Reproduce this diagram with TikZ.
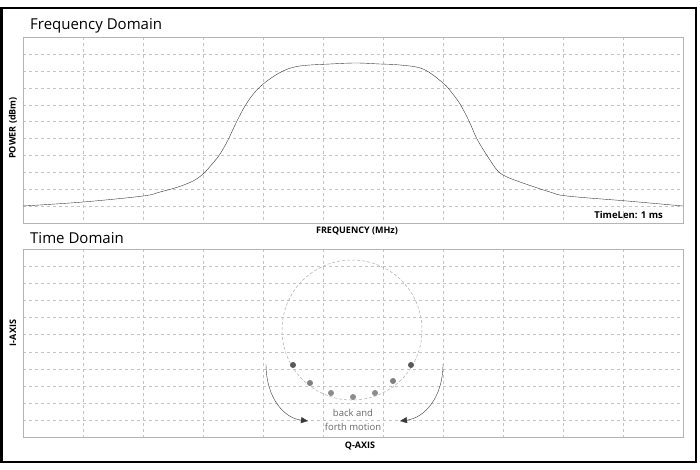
\documentclass[tikz,border=0pt]{standalone}
\usepackage{fontspec}
\setmainfont{Open Sans}
\usepackage{tikz}
\usetikzlibrary{arrows.meta,positioning}
\definecolor{gridx}{HTML}{C4C4C4}
\definecolor{framex}{HTML}{B4B4B4}
\definecolor{curvex}{HTML}{3A3A3A}
\definecolor{notex}{HTML}{6A6A6A}
\tikzset{
  gridln/.style={gridx,dashed,very thin},
  plotframe/.style={framex,thin},
  title/.style={font=\fontsize{15}{17}\selectfont,anchor=base west,inner sep=0pt},
  axlabel/.style={font=\fontsize{9}{11}\selectfont\bfseries,inner sep=0pt},
  ar/.style={-{Triangle[length=7pt,width=6pt]},curvex,thin},
  dot/.style={circle,fill=#1,inner sep=0pt,minimum size=6pt}
}
\begin{document}
\begin{tikzpicture}[x=1pt,y=-1pt]
\useasboundingbox (0,0) rectangle (700,469);
\fill[white] (0,0) rectangle (700,469);
\draw[black,line width=2.5pt] (1.5,8) rectangle (696,462);
% frequency domain panel
\foreach \gx in {1,...,10}{\draw[gridln] ({23+\gx*60},37) -- ({23+\gx*60},223);}
\foreach \gy in {1,...,10}{\draw[gridln] (23,{37+\gy*16.9}) -- (683,{37+\gy*16.9});}
\draw[plotframe] (23,37) rectangle (683,223);
\draw[curvex,thin] plot[smooth,tension=0.6] coordinates {
  (23,206) (83,202) (143,196) (160,192) (178,187) (193,181) (203,174)
  (213,163) (220,154) (228,140) (236,123) (245,106) (255,92) (267,81)
  (283,71) (300,66) (330,64) (356,63) (380,64) (400,65) (423,69)
  (443,83) (452,93) (460,104) (469,121) (477,139) (488,157) (497,170)
  (505,176) (520,182) (550,192) (567,196) (627,201) (683,206)};
\node[title] (ftitle) at (30,29) {Frequency Domain};
\node[axlabel,rotate=90] (power) at (13,128) {POWER (dBm)};
\node[axlabel] (freq) at (357,231) {FREQUENCY (MHz)};
\node[axlabel,anchor=east,font=\fontsize{9.5}{11}\selectfont] (tlen) at (663,215) {\textbf{TimeLen: 1 ms}};
% time domain panel
\foreach \gx in {1,...,10}{\draw[gridln] ({23+\gx*60},249) -- ({23+\gx*60},437);}
\foreach \gy in {1,...,10}{\draw[gridln] (23,{249+\gy*17.1}) -- (683,{249+\gy*17.1});}
\draw[plotframe] (23,249) rectangle (683,437);
\node[title] (ttitle) at (30,243) {Time Domain};
\node[axlabel,rotate=90] (iaxis) at (13,333) {I-AXIS};
\node[axlabel] (qaxis) at (360,446) {Q-AXIS};
\draw[black!32,dash pattern=on 3pt off 2pt,line width=0.5pt] (352,330) circle (70);
\node[dot=black!65] (p1) at (293,365) {};
\node[dot=black!50] (p2) at (310,383) {};
\node[dot=black!45] (p3) at (331,393) {};
\node[dot=black!45] (p4) at (353,397) {};
\node[dot=black!45] (p5) at (375,393) {};
\node[dot=black!50] (p6) at (393,381) {};
\node[dot=black!65] (p7) at (411,365) {};
\node[notex,font=\fontsize{9.5}{14}\selectfont,align=center,inner sep=0pt] (motion) at (353,420) {back and\\forth motion};
\coordinate (lstart) at (266,364);
\coordinate (lend) at (308,421);
\coordinate (rstart) at (443,364);
\coordinate (rend) at (400,421);
\draw[ar] (lstart) .. controls (266,398) and (284,418) .. (lend);
\draw[ar] (rstart) .. controls (443,398) and (424,418) .. (rend);
\end{tikzpicture}
\end{document}
